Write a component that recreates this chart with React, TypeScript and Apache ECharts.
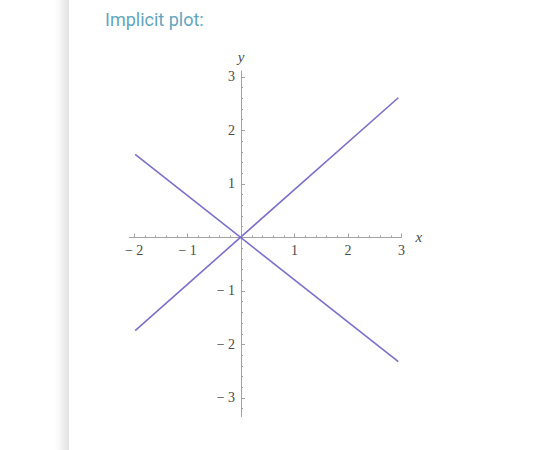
import React, { useEffect, useRef } from "react";
import * as echarts from "echarts";

const titleText = "Implicit plot:";
const xMajorTicks = [-2, -1, 1, 2, 3];
const yMajorTicks = [-3, -2, -1, 1, 2, 3];
const xMinorTicks = [-1.8, -1.6, -1.4, -1.2, -0.8, -0.6, -0.4, -0.2, 0.2, 0.4, 0.6, 0.8, 1.2, 1.4, 1.6, 1.8, 2.2, 2.4, 2.6, 2.8];
const yMinorTicks = [-3.2, -2.8, -2.6, -2.4, -2.2, -1.8, -1.6, -1.4, -1.2, -0.8, -0.6, -0.4, -0.2, 0.2, 0.4, 0.6, 0.8, 1.2, 1.4, 1.6, 1.8, 2.2, 2.4, 2.6, 2.8];
const xRange = [-2.09, 3.0];
const yRange = [-3.35, 3.11];
const lineA = [
  [-1.98, -1.74],
  [2.94, 2.61],
];
const lineB = [
  [-1.98, 1.55],
  [2.94, -2.32],
];

const AXIS_COLOR = "#a3a3a3";
const LABEL_COLOR = "#4a4a4a";
const CURVE_COLOR = "#7a6fca";

const fmt = (v: number) => (v < 0 ? "\u2212 " + Math.abs(v) : String(v));

export default function App() {
  const ref = useRef<HTMLDivElement>(null);
  useEffect(() => {
    if (!ref.current) return;
    const chart = echarts.init(ref.current, null, { renderer: "svg" });

    // plot area layout
    const L = 129.3;
    const T = 71;
    const W = 272.2;
    const H = 345.7;
    // pixel position of the origin, derived from the axis ranges
    const x0 = L + ((0 - xRange[0]) / (xRange[1] - xRange[0])) * W;
    const y0 = T + ((yRange[1] - 0) / (yRange[1] - yRange[0])) * H;

    const labelStyle = {
      fontFamily: "Liberation Serif, Times New Roman, serif",
      fontSize: 14,
      color: LABEL_COLOR,
    };
    const nameStyle = {
      fontFamily: "Liberation Serif, Times New Roman, serif",
      fontStyle: "italic" as const,
      fontSize: 15,
      color: LABEL_COLOR,
    };
    const tickLine = { color: AXIS_COLOR, width: 1 };
    const hiddenX = (gridIndex: number, range: number[]) => ({
      type: "value",
      gridIndex,
      min: range[0],
      max: range[1],
      show: false,
    });

    chart.setOption({
      animation: false,
      backgroundColor: "#ffffff",
      title: {
        text: titleText,
        left: 100,
        top: 5,
        textStyle: {
          fontFamily: "Roboto, sans-serif",
          fontWeight: "normal",
          fontSize: 18,
          color: "#62a6bd",
        },
      },
      graphic: [
        {
          type: "rect",
          shape: { x: 52, y: 0, width: 17, height: 450 },
          style: {
            fill: new echarts.graphic.LinearGradient(0, 0, 1, 0, [
              { offset: 0, color: "rgba(255,255,255,0)" },
              { offset: 0.6, color: "rgba(240,240,240,1)" },
              { offset: 1, color: "rgba(226,226,226,1)" },
            ]),
          },
          silent: true,
          z: -1,
        },
      ],
      grid: [
        { left: L, top: T, width: W, height: H },
        { left: L, top: T, width: W, height: y0 - T },
        { left: x0, top: T, width: L + W - x0, height: H },
      ],
      xAxis: [
        hiddenX(0, xRange),
        {
          type: "value",
          gridIndex: 1,
          min: xRange[0],
          max: xRange[1],
          position: "bottom",
          name: "x",
          nameLocation: "end",
          nameGap: 14,
          nameTextStyle: { ...nameStyle, padding: [4, 0, 0, 0] },
          axisLine: { show: true, onZero: false, lineStyle: tickLine },
          axisTick: { show: true, inside: true, length: 4, customValues: xMajorTicks, lineStyle: tickLine },
          axisLabel: { show: true, customValues: xMajorTicks, formatter: fmt, margin: 6, ...labelStyle },
          splitLine: { show: false },
        },
        {
          type: "value",
          gridIndex: 1,
          min: xRange[0],
          max: xRange[1],
          position: "bottom",
          axisLine: { show: false, onZero: false },
          axisTick: { show: true, inside: true, length: 2, customValues: xMinorTicks, lineStyle: tickLine },
          axisLabel: { show: false },
          splitLine: { show: false },
        },
        hiddenX(2, [0, xRange[1]]),
      ],
      yAxis: [
        hiddenX(0, yRange),
        hiddenX(1, [0, yRange[1]]),
        {
          type: "value",
          gridIndex: 2,
          min: yRange[0],
          max: yRange[1],
          position: "left",
          name: "y",
          nameLocation: "end",
          nameGap: 7,
          nameTextStyle: nameStyle,
          axisLine: { show: true, onZero: false, lineStyle: tickLine },
          axisTick: { show: true, inside: true, length: 4, customValues: yMajorTicks, lineStyle: tickLine },
          axisLabel: { show: true, customValues: yMajorTicks, formatter: fmt, margin: 6, ...labelStyle },
          splitLine: { show: false },
        },
        {
          type: "value",
          gridIndex: 2,
          min: yRange[0],
          max: yRange[1],
          position: "left",
          axisLine: { show: false, onZero: false },
          axisTick: { show: true, inside: true, length: 2, customValues: yMinorTicks, lineStyle: tickLine },
          axisLabel: { show: false },
          splitLine: { show: false },
        },
      ],
      series: [
        {
          type: "line",
          xAxisIndex: 0,
          yAxisIndex: 0,
          data: lineA,
          showSymbol: false,
          clip: false,
          lineStyle: { color: CURVE_COLOR, width: 1.6 },
          z: 5,
        },
        {
          type: "line",
          xAxisIndex: 0,
          yAxisIndex: 0,
          data: lineB,
          showSymbol: false,
          clip: false,
          lineStyle: { color: CURVE_COLOR, width: 1.6 },
          z: 5,
        },
      ],
    });
    return () => chart.dispose();
  }, []);
  return (
    <div
      ref={ref}
      style={{ position: "absolute", left: 0, top: 0, width: 539, height: 450 }}
    />
  );
}
